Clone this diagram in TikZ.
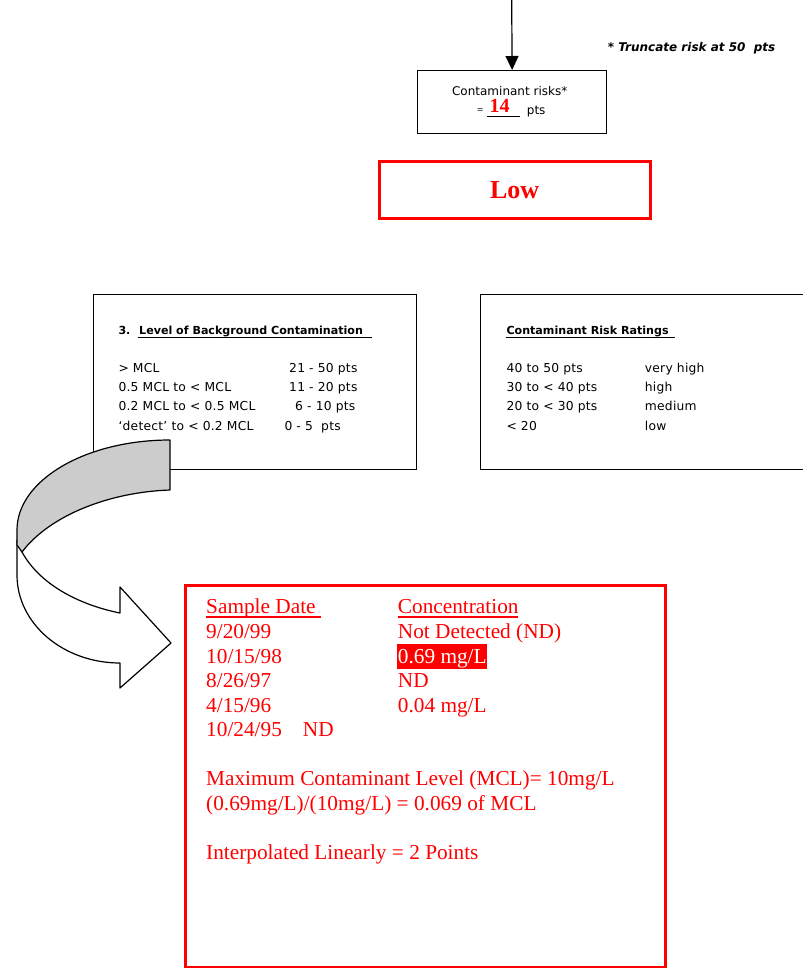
\documentclass[tikz,border=0pt]{standalone}
\usepackage{fontspec}
\setmainfont{Liberation Serif}
\newfontfamily\dvs{DejaVu Sans}
\newfontfamily\dvsl{DejaVu Sans}[LetterSpace=2]
\usetikzlibrary{arrows.meta}
\definecolor{bandgray}{HTML}{CCCCCC}
\begin{document}
\begin{tikzpicture}[x=1pt,y=-1pt,
  box/.style={draw=black, line width=0.9pt, inner sep=0pt, anchor=north west},
  redbox/.style={draw=red, line width=3pt, inner sep=0pt},
  sm/.style={font=\dvs\fontsize{12}{14}\selectfont, inner sep=0pt, anchor=base west},
  rowtxt/.style={font=\dvsl\fontsize{12.3}{14}\selectfont, inner sep=0pt, anchor=base west},
  ttl/.style={font=\dvs\bfseries\fontsize{11.1}{13}\selectfont, inner sep=0pt, anchor=base west},
  tm/.style={font=\fontsize{21.3}{24}\selectfont, text=red, inner sep=0pt, anchor=base west},
  ulblack/.style={line width=1.5pt},
  ulred/.style={draw=red, line width=2pt},
  outl/.style={draw=black, line width=1.2pt, line join=round}
]
\useasboundingbox (0,0) rectangle (803,968);

% top box and arrow
\node[box, minimum width=188.7pt, minimum height=63.3pt] (cbox) at (417.3,70) {};
\coordinate (top) at (511.7,0);
\draw[line width=1.2pt, -{Triangle[width=13pt,length=14pt]}] (top) -- (cbox.north);
\node[sm, anchor=base] (crt) at (509.7,95.7) {Contaminant risks*};
\node[font=\dvs\fontsize{8}{10}\selectfont, inner sep=0pt, anchor=base west] (eq) at (476.7,112.3) {=};
\node[font=\bfseries\fontsize{20}{22}\selectfont, text=red, inner sep=0pt, anchor=base west] (num) at (489.5,112.3) {14};
\draw[line width=0.8pt] (486.7,116.3) -- (520,116.3);
\node[sm] (pts) at (526.7,114.3) {pts};

\node[font=\dvs\bfseries\itshape\fontsize{12}{14}\selectfont, inner sep=0pt, anchor=base west] (trunc) at (607.7,51.7) {* Truncate risk at 50\ \ pts};

% Low box
\node[redbox, minimum width=270.7pt, minimum height=57.3pt, font=\bfseries\fontsize{26}{28}\selectfont, text=red] (low) at (514.7,189.7) {Low};

% Box 3
\node[box, minimum width=323.3pt, minimum height=175.3pt] (b3) at (92.7,294) {};
\node[ttl] (t3n) at (118.3,334) {3.};
\node[ttl] (t3) at (139,334) {Level of Background Contamination};
\draw[ulblack] (138.3,337.7) -- (371.7,337.7);
\node[rowtxt] (a1) at (118.3,372.7) {> MCL};
\node[rowtxt] (a2) at (118.3,391.7) {0.5 MCL to < MCL};
\node[rowtxt] (a3) at (118.3,410.7) {0.2 MCL to < 0.5 MCL};
\node[rowtxt] (a4) at (118.3,430) {‘detect’ to < 0.2 MCL};
\node[rowtxt] (p1) at (289,372.7) {21 - 50 pts};
\node[rowtxt] (p2) at (289,391.7) {11 - 20 pts};
\node[rowtxt] (p3) at (295,410.7) {6 - 10 pts};
\node[rowtxt] (p4) at (284.3,430) {0 - 5\ \ pts};

% Ratings box (cut at right edge)
\coordinate (rbox) at (480.7,294);
\draw[line width=0.9pt] (803,294) -| (480.7,469.3) -- (803,469.3);
\node[ttl] (rt) at (506.3,334) {Contaminant Risk Ratings};
\draw[ulblack] (506.3,337.7) -- (674.7,337.7);
\node[rowtxt] (r1) at (506.3,372.7) {40 to 50 pts};
\node[rowtxt] (r2) at (506.3,391.7) {30 to < 40 pts};
\node[rowtxt] (r3) at (506.3,410.7) {20 to < 30 pts};
\node[rowtxt] (r4) at (506.3,430) {< 20};
\node[rowtxt] (s1) at (644.7,372.7) {very high};
\node[rowtxt] (s2) at (644.7,391.7) {high};
\node[rowtxt] (s3) at (644.7,410.7) {medium};
\node[rowtxt] (s4) at (644.7,430) {low};

% curved 3D arrow
\filldraw[outl, fill=white] (17,540) -- (17,575) .. controls (17,623.6) and (63.1,663) .. (120,663)
  -- (120,688) -- (171,643) -- (120,587) -- (120,613)
  .. controls (80,605) and (40,585) .. (22,552) -- cycle;
\filldraw[outl, fill=bandgray] (170,440) .. controls (85.5,440) and (17,480.3) .. (17,530)
  -- (17,545) -- (22,552) .. controls (50,515) and (110,492) .. (170,490) -- cycle;

% big red box
\node[redbox, anchor=north west, minimum width=479.7pt, minimum height=382pt] (rbig) at (184.3,584) {};
\node[tm] (sd) at (206,613.3) {Sample Date};
\draw[ulred] (206,617.3) -- (320.7,617.3);
\node[tm] (conc) at (397.7,613.3) {Concentration};
\draw[ulred] (397.7,617.3) -- (518.3,617.3);
\node[tm] (d1) at (206,638.3) {9/20/99};
\node[tm] (c1) at (397.7,638.3) {Not Detected (ND)};
\node[tm] (d2) at (206,663.3) {10/15/98};
\node[tm, fill=red, text=white, inner xsep=0.5pt, inner ysep=0pt, text height=19pt, text depth=5.7pt] (c2) at (397.2,663.3) {0.69 mg/L};
\node[tm] (d3) at (206,687.7) {8/26/97};
\node[tm] (c3) at (397.7,687.7) {ND};
\node[tm] (d4) at (206,712.3) {4/15/96};
\node[tm] (c4) at (397.7,712.3) {0.04 mg/L};
\node[tm] (d5) at (206,736.7) {10/24/95\hspace{21pt}ND};
\node[tm] (m1) at (206,785.7) {Maximum Contaminant Level (MCL)= 10mg/L};
\node[tm] (m2) at (206,810) {(0.69mg/L)/(10mg/L) = 0.069 of MCL};
\node[tm] (m3) at (206,859.3) {Interpolated Linearly = 2 Points};
\end{tikzpicture}
\end{document}
